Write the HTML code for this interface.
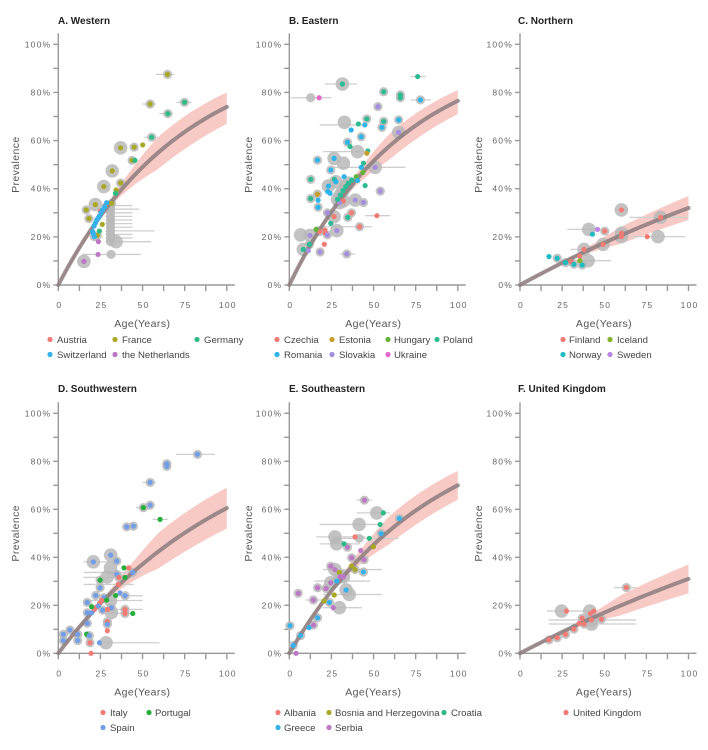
<!DOCTYPE html>
<html><head><meta charset="utf-8">
<style>
html,body{margin:0;padding:0;background:#fff;}
svg{display:block;font-family:"Liberation Sans",sans-serif;}
.tick{font-size:8.5px;fill:#666;letter-spacing:1.2px;}
.ttl{font-size:10px;font-weight:bold;fill:#222;}
.lab{font-size:10.5px;fill:#555;letter-spacing:0.4px;}
.leg{font-size:9.6px;fill:#444;letter-spacing:0px;}
</style></head>
<body>
<svg id="chart" width="708" height="750" viewBox="0 0 708 750"></svg>
<script>
// ---- data ----
const panelTitles = ["A. Western","B. Eastern","C. Northern","D. Southwestern","E. Southeastern","F. United Kingdom"];
const westernCountries = ["Austria","France","Germany","Switzerland","the Netherlands"];
const easternCountries = ["Czechia","Estonia","Hungary","Poland","Romania","Slovakia","Ukraine"];
const northernCountries = ["Finland","Iceland","Norway","Sweden"];
const southwesternCountries = ["Italy","Portugal","Spain"];
const southeasternCountries = ["Albania","Bosnia and Herzegovina","Croatia","Greece","Serbia"];
const ukCountries = ["United Kingdom"];
// fitted prevalence at age 100: [mid, upper, lower]
const curveAt100 = [[74,80,67],[76.5,81,71],[32,37,27],[60.5,69,52],[70,76,64],[31,37,25]];
const xTicks = [0,25,50,75,100];
const yTicks = [0,20,40,60,80,100];
// points: [age, prevalence %, country index (-1 = none), gray size (0/1/2), ci low age, ci high age]
const westernPoints = [
[64.8,87.5,1,1,58,69],[54.5,75.2,1,1,50,58],[74.9,75.9,2,1,70,79],[65,71.2,2,1,60,68],[55.4,61.4,2,1,51,59],
[50.1,58.2,1,0,0,0],[45,57.3,1,1,0,0],[37,57,1,2,0,0],[43.8,51.8,1,1,0,0],[45.5,51.8,2,0,0,0],
[32,47.4,1,2,0,0],[37,42.4,1,1,0,0],[27,40.9,1,2,0,0],[34.3,39.5,1,0,0,0],[33.9,38.1,2,0,0,0],
[31,33,-1,1,28,44],[31,31.5,-1,1,28,48],[31,30,-1,1,28,44],[31,28.5,-1,1,28,44],[31,27,-1,1,28,44],
[31,25.5,-1,1,28,44],[31,24,-1,1,28,44],[31,22.5,-1,1,28,57],[31,21,-1,1,28,44],[31,19.5,-1,1,28,44],[31,18,-1,1,28,55],
[27.7,33.1,0,0,0,0],[22,33.4,1,2,0,0],[31.7,33.9,1,1,0,0],[16.6,31.2,1,1,0,0],[18.2,27.6,1,1,0,0],
[26.1,25.2,1,0,0,0],[24.4,22.4,2,0,0,0],[23.2,20.6,1,1,0,0],[25,30.7,0,0,0,0],
[28.7,34.2,3,0,0,0],[27.5,32.5,3,0,0,0],[26.3,31.2,3,0,0,0],[25.3,30,3,0,0,0],[24.4,28.7,3,0,0,0],[23.6,27.8,3,0,0,0],
[22.8,27,3,0,0,0],[22,25.7,3,0,0,0],[21.2,24.5,3,0,0,0],[20.4,22.2,3,0,0,0],[20.8,21.2,3,0,0,0],[21.4,20.1,3,1,0,0],
[23.8,18,4,0,0,0],[23.6,12.7,4,0,0,0],[31.3,12.7,-1,1,14,49],[15.2,9.8,4,2,11,19],[34.3,18,-1,2,0,0]
];
const easternPoints = [
[76.2,86.6,3,0,72,81],[31.5,83.5,3,2,21,40],[12.7,77.8,-1,1,1,13],[17.7,77.8,6,0,13,25],[56,80.3,3,1,0,0],
[65.9,79,3,1,0,0],[65.9,77.8,3,1,0,0],[77.8,76.9,4,1,72,84],[52.6,74.1,5,1,0,0],[46,69,3,1,0,0],
[41,66.9,3,0,0,0],[44.8,66.5,4,0,18,47],[32.7,67.6,-1,2,0,0],[64.9,68.6,4,1,0,0],[56,68,3,1,0,0],
[55,65.5,4,1,0,0],[36.7,64.4,4,0,0,0],[42.7,61.6,4,1,0,0],[64.9,63.4,5,2,0,0],[34.5,59.3,4,1,0,0],
[36.1,57.5,3,0,0,0],[40.5,55.4,-1,2,20,45],[46.6,55.7,3,0,0,0],[46,54.7,1,0,0,0],[32.1,50.6,-1,2,0,0],
[16.7,51.9,4,1,0,0],[26.6,52.6,4,2,0,0],[44,50.6,3,0,0,0],[24.6,47.8,4,1,0,0],[51,48.9,5,2,26,69],
[42.7,48.9,4,0,0,0],[43.7,46.8,2,0,0,0],[12.7,43.9,3,1,0,0],[26.8,43.9,3,0,0,0],[32.5,45,4,0,0,0],
[27.6,42.9,4,2,0,0],[39.7,45,2,0,0,0],[40.5,43.4,4,0,0,0],[23.2,41.1,4,2,0,0],[45,41.3,3,0,0,0],
[22.8,38.8,4,0,0,0],[24.2,38.1,4,0,0,0],[16.7,37.7,1,1,0,0],[54,39,5,1,0,0],[12.7,35.9,3,1,0,0],
[17.1,35.2,4,0,0,0],[39.1,35.3,5,2,0,0],[44,34.3,5,1,0,0],[32.1,34.9,0,2,0,0],[29.8,34.2,5,2,0,0],
[28.6,35.6,3,2,0,0],[30.3,37.4,3,2,0,0],[31.9,39.2,3,2,0,0],[33.5,40.9,3,2,0,0],[35.1,42.3,3,2,0,0],[37.1,43.6,3,0,0,0],
[17.1,32.3,4,1,0,0],[36.9,30,0,1,0,0],[34.7,28.1,3,1,0,0],[26.6,28.4,0,2,0,0],[22.6,30,5,1,0,0],
[52,28.8,0,0,45,60],[24.6,25.6,3,0,0,0],[41.7,24.2,0,1,16,49],[21.2,22.8,0,0,0,0],[21.2,21.7,0,0,0,0],
[17.9,22.2,0,1,0,0],[15.9,23.1,2,0,0,0],[28.2,22.6,5,2,0,0],[22.6,20.8,5,1,0,0],[12.3,20.6,5,2,0,0],
[6.7,20.8,-1,2,0,0],[20.8,16.9,0,0,0,0],[11.9,16.9,3,1,0,0],[18.3,13.7,5,1,0,0],[8.3,14.8,3,2,0,0],
[11.3,14.3,5,0,0,0],[34.1,12.9,5,1,30,39]
];
const northernPoints = [
[60.2,31.2,0,2,56,64],[83.4,28.1,0,2,65,99],[60.2,21.5,0,2,0,0],[60.2,20.1,0,2,0,0],[75.5,20.1,0,0,0,0],
[81.9,20.1,-1,2,65,98],[50.3,22.4,0,1,0,0],[46,23.1,3,0,0,0],[43,21.1,2,0,0,0],[40.8,23.1,-1,2,28,50],
[49.3,16.9,0,2,46,52],[38,14.8,0,2,30,42],[35.5,12,0,0,0,0],[17.2,11.8,2,0,0,0],[22.1,11.1,2,1,0,0],
[30.2,9.7,0,1,0,0],[35.5,10.1,1,0,0,0],[40.4,10.1,-1,2,33,54],[27,9.3,2,1,0,0],[32,8.6,2,1,0,0],[36.9,8.3,2,1,0,0]
];
const southwesternPoints = [
[82.6,82.9,2,1,70,93],[64.4,79,2,1,0,0],[64.4,77.9,2,1,0,0],[54.5,71.2,2,1,50,58],[54.5,61.7,2,1,0,0],
[50.5,60.7,1,1,46,54],[60.4,55.8,1,0,56,65],[40.6,52.7,2,1,0,0],[44.6,53,2,1,0,0],[31.1,40.9,2,2,0,0],
[20.8,38.1,2,2,15,30],[34.7,38.4,2,1,0,0],[39,35.6,1,0,0,0],[41.8,35.6,0,0,0,0],[44.2,33.7,2,1,15,50],
[34.7,32.9,2,1,0,0],[36,31.6,0,1,15,45],[39.6,31.6,1,0,0,0],[31,35.5,-1,2,0,0],[29,31.8,-1,2,0,0],[24.8,30.5,1,1,0,0],
[35.6,28.7,0,0,15,45],[24.8,27.3,2,1,0,0],[36.6,25.2,2,0,0,0],[34,24.1,1,0,0,0],[39.6,24,2,1,25,50],
[22.2,24.1,2,1,0,0],[27.1,23.2,2,1,0,0],[28.7,22.2,1,0,0,0],[31,22,-1,2,15,50],[17.2,21.2,2,1,0,0],[25.7,22.1,0,0,0,0],
[24.4,20.8,0,0,0,0],[22.8,19.4,0,0,0,0],[21.4,18.3,0,0,0,0],[19.8,19.4,1,0,0,0],[23.8,19.7,2,0,0,0],
[31.5,19,2,1,0,0],[26.3,18,2,1,0,0],[29.3,18.3,0,0,0,0],[31.5,17,-1,2,0,0],[19.8,16.9,2,0,0,0],[17.2,16.9,2,1,0,0],
[39.6,18.3,0,1,30,50],[39.6,16.6,0,1,30,45],[44.2,16.6,1,0,0,0],[17.2,12.5,2,1,0,0],[29.1,13.2,0,1,0,0],
[29.1,12.1,2,1,0,0],[29.1,9.4,0,0,0,0],[16.8,8,1,0,0,0],[18.4,7.4,2,1,0,0],[6.9,9.7,2,1,0,0],
[3,7.9,2,1,0,0],[11.5,7.9,2,1,0,0],[3,5.3,2,1,0,0],[11.5,5.3,2,1,0,0],[18.8,4.4,0,1,0,0],
[24.4,4.4,2,0,0,0],[28.3,4.4,-1,2,25,60],[19.4,0,0,0,0,0]
];
const southeasternPoints = [
[44.6,63.8,4,1,40,49],[55.8,58.5,2,0,0,0],[51.9,58.5,-1,2,40,60],[65.3,56.2,3,1,0,0],[41.4,53.7,-1,2,18,57],
[53.9,53.7,2,0,0,0],[54.5,49.9,3,1,0,0],[39,48.5,0,0,0,0],[27.1,48.5,-1,2,16,45],[41.4,47.9,-1,1,30,65],
[47.5,47.9,2,0,0,0],[32.5,45.6,2,0,0,0],[28.1,45.6,-1,2,18,42],[49.9,44.4,1,0,0,0],[34.5,44.2,4,1,0,0],
[42.4,42.8,4,0,0,0],[37,39.8,4,1,0,0],[37,36.4,1,0,0,0],[44.4,39,4,1,0,0],[24.6,36.3,4,1,0,0],
[29.7,33.7,1,0,0,0],[27.1,34.9,4,2,0,0],[39,34.9,1,1,20,55],[44,33.9,3,1,0,0],[30.1,31.9,4,2,0,0],
[32.1,31.9,4,2,0,0],[28.1,30.1,3,1,15,48],[24.6,29.4,4,2,0,0],[21.8,27,4,1,0,0],[16.8,27.3,4,1,0,0],
[33.7,26.4,3,2,0,0],[35.6,24.5,-1,2,20,55],[5.3,25,4,1,0,0],[26.7,24.3,1,0,0,0],[20.6,21.8,1,0,0,0],
[14.3,22.2,4,1,10,20],[23.8,21.2,3,1,0,0],[26.1,19,4,0,0,0],[29.7,19,-1,2,20,43],[16.8,14.8,3,1,0,0],
[14.3,11.8,4,1,0,0],[11.7,10.7,3,0,0,0],[0.4,11.5,3,1,0,0],[6.7,7.4,3,1,0,0],[2.4,3.3,3,1,0,0],[4,0,4,0,0,0]
];
const ukPoints = [
[63.1,27.4,0,1,56,69],[27.6,17.6,0,0,0,0],[24.7,17.6,-1,2,16,34],[43.8,17.6,0,0,0,0],[41.8,16.6,0,0,0,0],
[41.4,17.6,-1,2,34,46],[36.9,14.6,0,1,0,0],[42.4,13.9,0,2,17,69],[48.3,14.2,0,1,0,0],[38,12.2,0,1,17,69],
[35.1,12.5,0,0,0,0],[32,10.1,0,1,0,0],[27,7.9,0,1,0,0],[22.1,6.5,0,1,0,0],[17.2,5.6,0,1,0,0],[42.4,12.2,-1,2,0,0]
];

const pal5 = ["#f27c74","#a8a824","#2dbb86","#35b2ec","#bc78c4"];
const pal7 = ["#f27c74","#c89e28","#62b43a","#2cbb94","#2db4ea","#a68ede","#e468cc"];
const pal4 = ["#f27c74","#84b22c","#1ebcc2","#bc86e2"];
const pal3 = ["#f27c74","#26ae3a","#729ee8"];
const pal1 = ["#f27c74"];

// ---- layout ----
const NS = "http://www.w3.org/2000/svg";
const svg = document.getElementById("chart");
const panels = [
 {pts:westernPoints, names:westernCountries, pal:pal5, x0:58.3, y0:285, top:44.3, title:[58,24], ylab:15, leg:[[50,57,343],[115,122,343],[197,204,343],[50,57,358],[115,122,358]]},
 {pts:easternPoints, names:easternCountries, pal:pal7, x0:289.3, y0:285, top:44.3, title:[289,24], ylab:248, leg:[[277,284,343],[332,339,343],[388,394,343],[437,443,343],[277,284,358],[332,339,358],[388,394,358]]},
 {pts:northernPoints, names:northernCountries, pal:pal4, x0:520, y0:285, top:44.3, title:[518,24], ylab:478, leg:[[563,569,343],[610,617,343],[563,569,358],[610,617,358]]},
 {pts:southwesternPoints, names:southwesternCountries, pal:pal3, x0:58.3, y0:653.3, top:413.3, title:[58,392], ylab:15, leg:[[103,110,716],[149,155,716],[103,110,731]]},
 {pts:southeasternPoints, names:southeasternCountries, pal:pal5, x0:289.3, y0:653.3, top:413.3, title:[289,392], ylab:248, leg:[[278,284,716],[329,335,716],[444,451,716],[278,284,731],[329,335,731]]},
 {pts:ukPoints, names:ukCountries, pal:pal1, x0:520, y0:653.3, top:413.3, title:[518,392], ylab:478, leg:[[566,573,716]]}
];
const XW = 168.5;

function mk(tag, attrs, parent, text){
  const e = document.createElementNS(NS, tag);
  for (const k in attrs) e.setAttribute(k, attrs[k]);
  if (text !== undefined) e.textContent = text;
  parent.appendChild(e);
  return e;
}
function kFrom(p){ return -Math.log(1 - p/100)/100; }

panels.forEach((P, i) => {
  const g = mk("g", {}, svg);
  
  
  const sx = a => P.x0 + a / 100 * XW;
  const sy = v => P.y0 - v / 100 * (P.y0 - P.top);

  const t = mk("text", {x:P.title[0], y:P.title[1], class:"ttl"}, g, panelTitles[i]);
  
  

  const ax = mk("g", {stroke:"#999", "stroke-width":1.4, fill:"none"}, g);
  
  
  mk("line", {x1:P.x0, y1:P.top-11, x2:P.x0, y2:P.y0}, ax);
  mk("line", {x1:P.x0, y1:P.y0, x2:P.x0+XW+8, y2:P.y0}, ax);
  for (let v = 0; v <= 100; v += 10) mk("line", {x1:P.x0-5, y1:sy(v), x2:P.x0, y2:sy(v)}, ax);
  for (let a = 0; a <= 100; a += 12.5) mk("line", {x1:sx(a), y1:P.y0, x2:sx(a), y2:P.y0+6}, ax);
  yTicks.forEach(v => {
    const tl = mk("text", {x:P.x0-7, y:sy(v)+3, class:"tick", "text-anchor":"end"}, g, v + "%");
    
    
  });
  xTicks.forEach(a => {
    const tl = mk("text", {x:sx(a)+1, y:P.y0+23, class:"tick", "text-anchor":"middle"}, g, String(a));
    
    
  });
  const xl = mk("text", {x:P.x0+84, y:P.y0+42, class:"lab", "text-anchor":"middle"}, g, "Age(Years)");
  
  
  const yl = mk("text", {x:0, y:0, class:"lab", "text-anchor":"middle", transform:`translate(${P.ylab+4},${(P.y0+P.top)/2}) rotate(-90)`}, g, "Prevalence");
  
  

  const [m, u, l] = curveAt100[i];
  const km = kFrom(m), ku = kFrom(u), kl = kFrom(l);
  const bandK = (a, kk) => {
    const w = Math.min(1, Math.abs(a - 25) / 40 + 0.15);
    return km + (kk - km) * w;
  };
  let up = "", lo = "", mid = "";
  for (let a = 0; a <= 100; a += 2) {
    up += (a ? "L" : "M") + sx(a) + "," + sy(100*(1-Math.exp(-bandK(a,ku)*a)));
    mid += (a ? "L" : "M") + sx(a) + "," + sy(100*(1-Math.exp(-km*a)));
  }
  for (let a = 100; a >= 0; a -= 2) lo += "L" + sx(a) + "," + sy(100*(1-Math.exp(-bandK(a,kl)*a)));
  const band = mk("path", {d:up+lo+"Z", fill:"#f6b8b2", opacity:0.75}, g);
  
  

  P.pts.forEach(p => {
    if (p[4] || p[5]) {
      const eb = mk("line", {x1:sx(p[4]), y1:sy(p[1]), x2:sx(p[5]), y2:sy(p[1]), stroke:"#cfcfcf", "stroke-width":1.3}, g);
      
      
    }
  });
  P.pts.forEach(p => {
    if (p[3]) {
      const c = mk("circle", {cx:sx(p[0]), cy:sy(p[1]), r:p[3] === 2 ? 6.8 : 4.6, fill:"#b8b8b8", opacity:0.85}, g);
      
      
    }
  });
  const cur = mk("path", {d:mid, fill:"none", stroke:"#8c7c7e", "stroke-width":4, opacity:0.85, "stroke-linecap":"round"}, g);
  
  
  P.pts.forEach(p => {
    if (p[2] >= 0) {
      const d = mk("circle", {cx:sx(p[0]), cy:sy(p[1]), r:2.6, fill:P.pal[p[2]]}, g);
      
      
    }
  });

  P.names.forEach((n, j) => {
    const L = P.leg[j];
    const lg = mk("g", {}, g);
    
    
    mk("circle", {cx:L[0], cy:L[2]-3.5, r:2.6, fill:P.pal[j]}, lg);
    mk("text", {x:L[1], y:L[2], class:"leg"}, lg, n);
  });
});
</script>
</body></html>
